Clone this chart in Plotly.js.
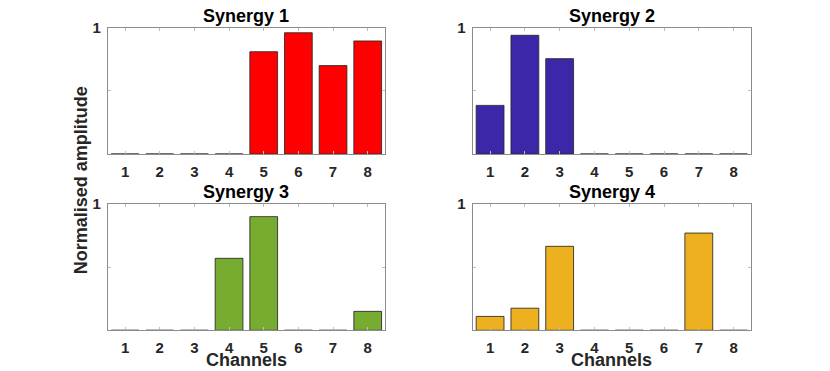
<!DOCTYPE html>
<html>
<head>
<meta charset="utf-8">
<script src="https://cdn.plot.ly/plotly-3.0.1.min.js"></script>
<style>
  html, body { margin: 0; padding: 0; background: #fff; }
  #plotDiv { width: 830px; height: 371px; }
</style>
</head>
<body>
<div id="plotDiv"></div>
<script>
// channel numbers on the x axis
var channels = [1, 2, 3, 4, 5, 6, 7, 8];

// normalised synergy weights
var synergy1 = [0, 0, 0, 0, 0.81, 0.96, 0.70, 0.895];
var synergy2 = [0.385, 0.94, 0.755, 0, 0, 0, 0, 0];
var synergy3 = [0, 0, 0, 0.57, 0.90, 0, 0, 0.15];
var synergy4 = [0.11, 0.175, 0.665, 0, 0, 0, 0.77, 0];

var synergyNames = ['Synergy 1', 'Synergy 2', 'Synergy 3', 'Synergy 4'];
var synergyColors = ['#ff0000', '#3b27a8', '#77ac30', '#edb120'];

var FONT = 'Liberation Sans, Arial, Helvetica, sans-serif';
var TEXT_COLOR = '#262626';

window.onload = function () {
    initializePlotDiv();
};

function makeTrace(values, idx) {
    var n = idx === 0 ? '' : String(idx + 1);
    return {
        type: 'bar',
        x: channels,
        y: values,
        width: 0.8,
        xaxis: 'x' + n,
        yaxis: 'y' + n,
        marker: {
            color: synergyColors[idx],
            line: {color: 'rgba(40,40,40,0.85)', width: 1}
        },
        hoverinfo: 'x+y',
        showlegend: false
    };
}

function xAxisOpt(domain, anchor) {
    return {
        domain: domain,
        anchor: anchor,
        range: [0.5, 8.5],
        tickvals: channels,
        ticks: 'inside',
        ticklen: 3,
        tickcolor: '#bdbdbd',
        ticklabelstandoff: 4,
        showline: true,
        linecolor: '#8c8c8c',
        linewidth: 1,
        mirror: 'ticks',
        showgrid: false,
        zeroline: false,
        fixedrange: true,
        tickfont: {family: FONT, size: 15, color: TEXT_COLOR, weight: 'bold'}
    };
}

function yAxisOpt(domain, anchor) {
    return {
        domain: domain,
        anchor: anchor,
        range: [0, 1],
        tickvals: [0, 0.5, 1],
        ticktext: ['', '', '1'],
        ticks: 'inside',
        ticklen: 3,
        tickcolor: '#bdbdbd',
        ticklabelstandoff: 3,
        showline: true,
        linecolor: '#8c8c8c',
        linewidth: 1,
        mirror: 'ticks',
        showgrid: false,
        zeroline: false,
        fixedrange: true,
        tickfont: {family: FONT, size: 15, color: TEXT_COLOR, weight: 'bold'}
    };
}

function initializePlotDiv() {
    var plotDiv = document.getElementById('plotDiv');
    var allData = [synergy1, synergy2, synergy3, synergy4];
    var plotData = allData.map(makeTrace);

    var leftDom = [0.1298, 0.4639];
    var rightDom = [0.5695, 0.9048];
    var topDom = [0.5849, 0.9253];
    var botDom = [0.1097, 0.4501];

    var annotations = [];
    var titlePos = [
        {x: leftDom, y: topDom[1]},
        {x: rightDom, y: topDom[1]},
        {x: leftDom, y: botDom[1]},
        {x: rightDom, y: botDom[1]}
    ];
    titlePos.forEach(function (p, i) {
        annotations.push({
            text: synergyNames[i],
            xref: 'paper', yref: 'paper',
            x: (p.x[0] + p.x[1]) / 2, y: p.y,
            xanchor: 'center', yanchor: 'bottom',
            showarrow: false,
            font: {family: FONT, size: 18, color: '#000000', weight: 'bold'}
        });
    });
    [leftDom, rightDom].forEach(function (d) {
        annotations.push({
            text: 'Channels',
            xref: 'paper', yref: 'paper',
            x: (d[0] + d[1]) / 2, y: 0,
            xanchor: 'center', yanchor: 'bottom',
            borderpad: 0,
            showarrow: false,
            font: {family: FONT, size: 18, color: TEXT_COLOR, weight: 'bold'}
        });
    });
    annotations.push({
        text: 'Normalised amplitude',
        xref: 'paper', yref: 'paper',
        x: 0.097, y: 0.513,
        xanchor: 'center', yanchor: 'middle',
        textangle: -90,
        showarrow: false,
        font: {family: FONT, size: 18, color: TEXT_COLOR, weight: 'bold'}
    });

    var layoutOpt = {
        width: 830,
        height: 371,
        margin: {l: 0, r: 0, t: 0, b: 0},
        paper_bgcolor: '#ffffff',
        plot_bgcolor: '#ffffff',
        bargap: 0.2,
        xaxis: xAxisOpt(leftDom, 'y'),
        yaxis: yAxisOpt(topDom, 'x'),
        xaxis2: xAxisOpt(rightDom, 'y2'),
        yaxis2: yAxisOpt(topDom, 'x2'),
        xaxis3: xAxisOpt(leftDom, 'y3'),
        yaxis3: yAxisOpt(botDom, 'x3'),
        xaxis4: xAxisOpt(rightDom, 'y4'),
        yaxis4: yAxisOpt(botDom, 'x4'),
        annotations: annotations
    };
    Plotly.newPlot(plotDiv, plotData, layoutOpt, {displayModeBar: false, staticPlot: true});
}
</script>
</body>
</html>
